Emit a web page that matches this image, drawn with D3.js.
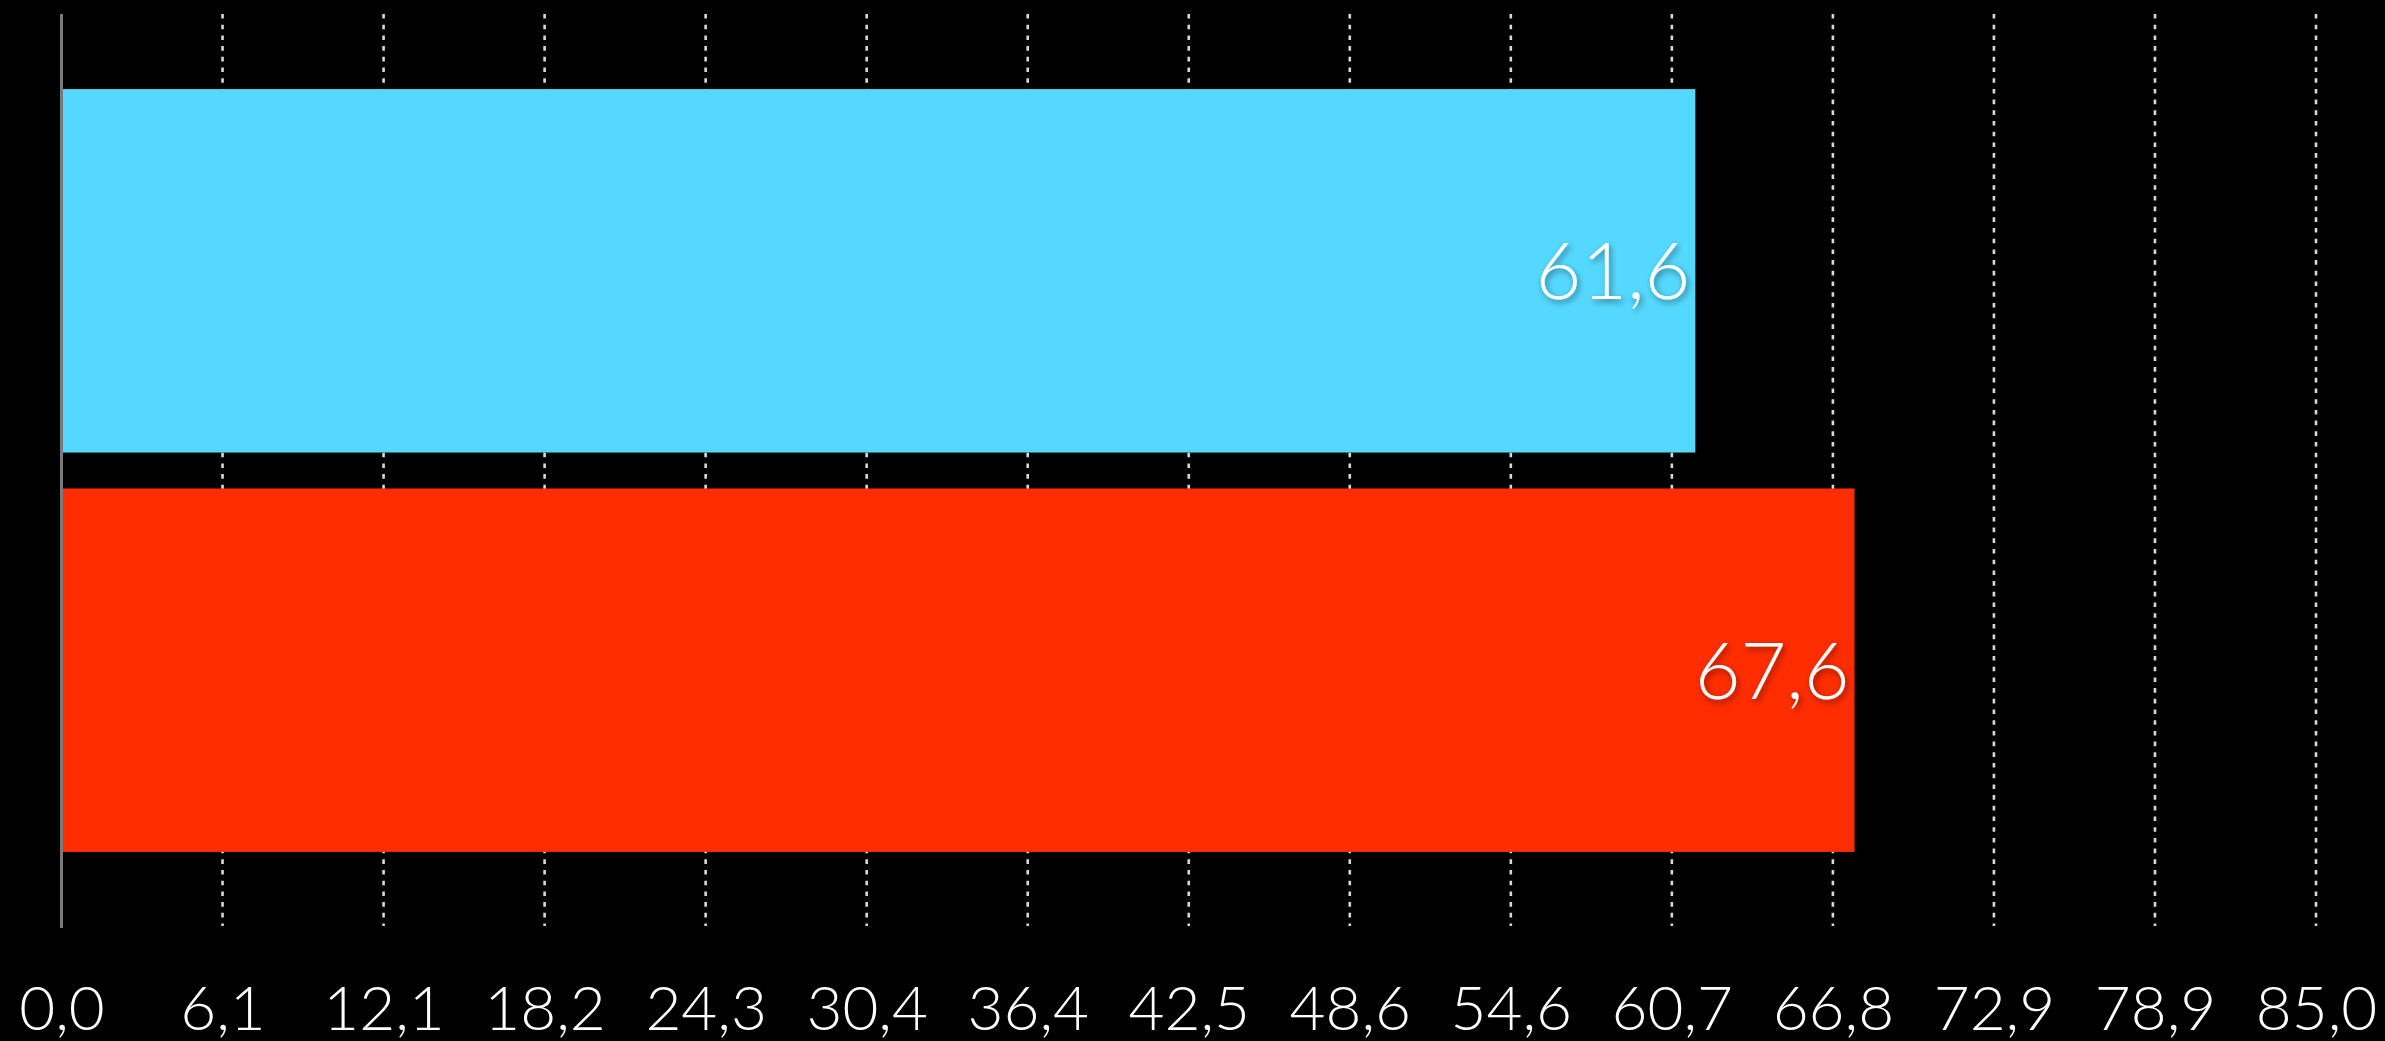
<!DOCTYPE html>
<html>
<head>
<meta charset="utf-8">
<script src="https://cdn.jsdelivr.net/npm/d3@7"></script>
<style>
  html, body { margin: 0; padding: 0; background: #000; }
  svg { display: block; }
  text { font-family: Lato, "Open Sans", sans-serif; font-weight: 300; fill: #fff; }
</style>
</head>
<body>
<svg id="chart" width="2385" height="1041"></svg>
<script>
// Series
const categories = ["A", "B"];
const values = [61.6, 67.6];
const barColors = ["#55D8FF", "#FF2D00"];
// Axis
const xMax = 85.0;
const tickCount = 14;
const tickValues = d3.range(tickCount + 1).map(i => xMax * i / tickCount);
const fmt = v => d3.format(".1f")(v).replace(".", ",");

const W = 2385, H = 1041;
const plot = { left: 61.5, right: 2316, top: 14, bottom: 927 };

const svg = d3.select("#chart");

const defs = svg.append("defs");
const f = defs.append("filter").attr("id", "shadow")
  .attr("x", "-20%").attr("y", "-20%").attr("width", "140%").attr("height", "150%");
f.append("feDropShadow").attr("dx", 2).attr("dy", 3).attr("stdDeviation", 3)
  .attr("flood-color", "#000").attr("flood-opacity", 0.45);

const x = d3.scaleLinear().domain([0, xMax]).range([plot.left, plot.right]);
const y = d3.scaleBand().domain(categories).range([plot.top, plot.bottom])
  .paddingInner(0.09).paddingOuter(0.188);

// dashed vertical gridlines
svg.append("g")
  .selectAll("line")
  .data(tickValues.slice(1))
  .join("line")
  .attr("x1", d => x(d)).attr("x2", d => x(d))
  .attr("y1", plot.top).attr("y2", plot.bottom - 1)
  .attr("stroke", "#d8d8d8")
  .attr("stroke-width", 2.6)
  .attr("stroke-dasharray", "4.6,6.1");

// bars
svg.append("g")
  .selectAll("rect")
  .data(values)
  .join("rect")
  .attr("x", x(0))
  .attr("y", (d, i) => y(categories[i]))
  .attr("width", d => x(d) - x(0))
  .attr("height", y.bandwidth())
  .attr("fill", (d, i) => barColors[i]);

// value axis line at zero
svg.append("line")
  .attr("x1", x(0)).attr("x2", x(0))
  .attr("y1", plot.top).attr("y2", plot.bottom + 1)
  .attr("stroke", "#7a7a7a").attr("stroke-width", 3);

// bottom tick labels
const axis = d3.axisBottom(x).tickValues(tickValues).tickFormat(fmt).tickSize(0).tickPadding(0);
const gAxis = svg.append("g").attr("transform", `translate(0, ${plot.bottom})`).call(axis);
gAxis.select(".domain").remove();
gAxis.selectAll("text")
  .attr("dy", null)
  .attr("y", 103)
  .attr("fill", "#fff")
  .style("font-size", "62px")
  .style("font-family", "Lato, 'Open Sans', sans-serif")
  .style("font-weight", 300);

// value labels inside bars
svg.append("g")
  .selectAll("text")
  .data(values)
  .join("text")
  .attr("x", d => x(d) - 5)
  .attr("y", (d, i) => y(categories[i]) + y.bandwidth() / 2)
  .attr("dy", "0.36em")
  .attr("text-anchor", "end")
  .attr("filter", "url(#shadow)")
  .style("font-size", "79px")
  .text(fmt);
</script>
</body>
</html>
